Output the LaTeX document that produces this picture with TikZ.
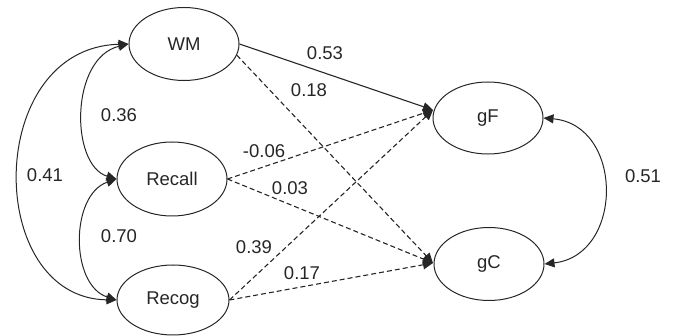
\documentclass[tikz,border=0pt]{standalone}
\usepackage{fontspec}
\setmainfont{Liberation Sans}
\usetikzlibrary{shapes.geometric,arrows.meta}
\begin{document}
\begin{tikzpicture}[x=1pt,y=-1pt,
  every node/.style={font=\fontsize{18.5}{21}\selectfont, text=black!85},
  latent/.style={ellipse, draw=black!85, line width=1pt, minimum width=110pt, minimum height=73pt, inner sep=0pt},
  lbl/.style={inner sep=0pt},
  conn/.style={draw=black!85, line width=1.1pt, -{Triangle[length=10pt,width=9pt]}},
  dconn/.style={conn, dash pattern=on 5pt off 3pt},
  cov/.style={draw=black!85, line width=1pt, {Triangle[length=10pt,width=9pt]}-{Triangle[length=10pt,width=9pt]}}]
\useasboundingbox (0,0) rectangle (673,336);
\node[latent] (WM) at (184,44) {WM};
\node[latent, minimum height=74pt] (Recall) at (172,179) {Recall};
\node[latent, minimum width=112pt, minimum height=70pt] (Recog) at (173,300) {Recog};
\node[latent, minimum height=72pt] (gF) at (488,118) {gF};
\node[latent] (gC) at (489,264) {gC};
\coordinate (gFin) at (433,110);
\coordinate (gCin) at (433,263);
% paths
\draw[conn] (WM.east) -- (gFin);
\draw[dconn] (WM.-12) -- (gCin);
\draw[dconn] (Recall.east) -- (gFin);
\draw[dconn] (Recall.east) -- (gCin);
\draw[dconn] (Recog.east) -- (gFin);
\draw[dconn] (Recog.east) -- (gCin);
% covariances
\draw[cov] (WM.west) .. controls (70,58) and (70,165) .. (Recall.west);
\draw[cov] (Recall.west) .. controls (70,195) and (70,285) .. (Recog.west);
\draw[cov] (WM.west) .. controls (-16,48) and (-16,298) .. (Recog.west);
\draw[cov] (gF.east) .. controls (624,125) and (624,255) .. (gC.east);
% labels
\node[lbl] (l53) at (325,53) {0.53};
\node[lbl] (l18) at (309,90) {0.18};
\node[lbl] (l36) at (119,115) {0.36};
\node[lbl] (l06) at (264,151) {-0.06};
\node[lbl] (l41) at (45,175) {0.41};
\node[lbl] (l03) at (290,188) {0.03};
\node[lbl] (l70) at (119,236) {0.70};
\node[lbl] (l39) at (254,247) {0.39};
\node[lbl] (l17) at (302,273) {0.17};
\node[lbl] (l51) at (643,176) {0.51};
\end{tikzpicture}
\end{document}
